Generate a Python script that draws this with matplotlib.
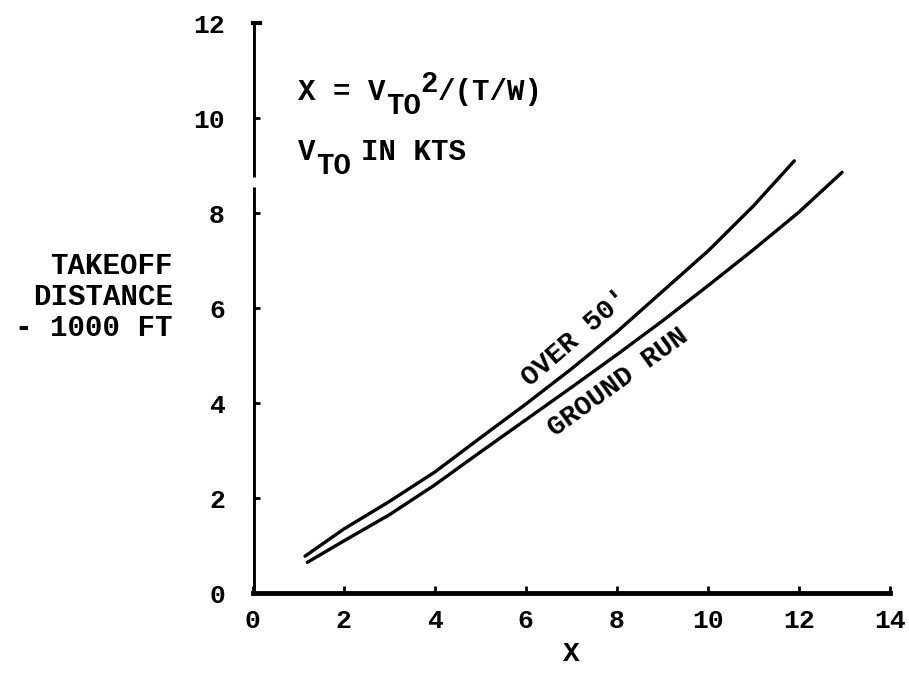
import matplotlib
matplotlib.use("Agg")
import matplotlib.pyplot as plt

# curves (X vs takeoff distance, 1000 ft)
over50_x = [1.15, 2, 3, 4, 5, 6, 7, 8, 9, 10, 11, 11.9]
over50_y = [0.78, 1.35, 1.93, 2.55, 3.27, 3.98, 4.72, 5.5, 6.35, 7.2, 8.15, 9.1]

ground_x = [1.2, 2, 3, 4, 5, 6, 7, 8, 9, 10, 11, 12, 12.95]
ground_y = [0.65, 1.1, 1.65, 2.28, 2.97, 3.65, 4.33, 5.02, 5.73, 6.47, 7.23, 8.02, 8.86]

x_ticks = [0, 2, 4, 6, 8, 10, 12, 14]
y_ticks = [0, 2, 4, 6, 8, 10, 12]

plt.rcParams["font.family"] = ["Liberation Mono", "DejaVu Sans Mono"]
plt.rcParams["font.weight"] = "bold"

fig = plt.figure(figsize=(9.09, 6.78), dpi=100)
ax = fig.add_axes([0.278, 0.125, 0.701, 0.841])

ax.plot(over50_x, over50_y, color="black", lw=2.4, solid_capstyle="round")
ax.plot(ground_x, ground_y, color="black", lw=2.4, solid_capstyle="round")

ax.set_xlim(0, 14)
ax.set_ylim(0, 12)
ax.set_xticks(x_ticks)
ax.set_yticks(y_ticks)
ax.tick_params(direction="in", length=5, width=2, labelsize=19)
ax.tick_params(axis="x", pad=11)
ax.tick_params(axis="y", pad=20)

for s in ["top", "right"]:
    ax.spines[s].set_visible(False)
ax.spines["bottom"].set_linewidth(3.5)
ax.spines["left"].set_visible(False)
# left axis drawn in two pieces (gap in the original scan)
ax.axvline(0, ymin=0, ymax=8.55 / 12, color="black", lw=3.5, solid_capstyle="butt")
ax.axvline(0, ymin=8.75 / 12, ymax=1, color="black", lw=3.5, solid_capstyle="butt")
ax.plot([0, 0.15], [12, 12], color="black", lw=3, clip_on=False)

ax.set_xlabel("X", fontsize=20, fontweight="bold", labelpad=6)
fig.text(0.19, 0.562, "TAKEOFF\nDISTANCE\n- 1000 FT", ha="right", va="center",
         fontsize=21, fontweight="bold", linespacing=1.15)

# annotation lines, built from pieces so the subscripts stay full size
fs = 21
cw = 0.6 * fs  # monospace advance in points


def piece(txt, x, y, nchar, dy):
    ax.annotate(txt, xy=(x, y), xytext=(nchar * cw, dy), textcoords="offset points",
                fontsize=fs, fontweight="bold", va="center", ha="left")


piece("X = V", 1.0, 10.55, 0, 0)
piece("TO", 1.0, 10.55, 5, -10)
piece("2", 1.0, 10.55, 7, 6)
piece("/(T/W)", 1.0, 10.55, 8, 0)

piece("V", 1.0, 9.28, 0, 0)
piece("TO", 1.0, 9.28, 1, -10)
piece("IN KTS", 1.0, 9.28, 3.6, 0)

ax.text(7.1, 5.37, "OVER 50'", rotation=41, fontsize=20, fontweight="bold",
        ha="center", va="center", rotation_mode="anchor")
ax.text(8.02, 4.44, "GROUND RUN", rotation=36, fontsize=20, fontweight="bold",
        ha="center", va="center", rotation_mode="anchor")

fig.savefig("out.png", dpi=100)
